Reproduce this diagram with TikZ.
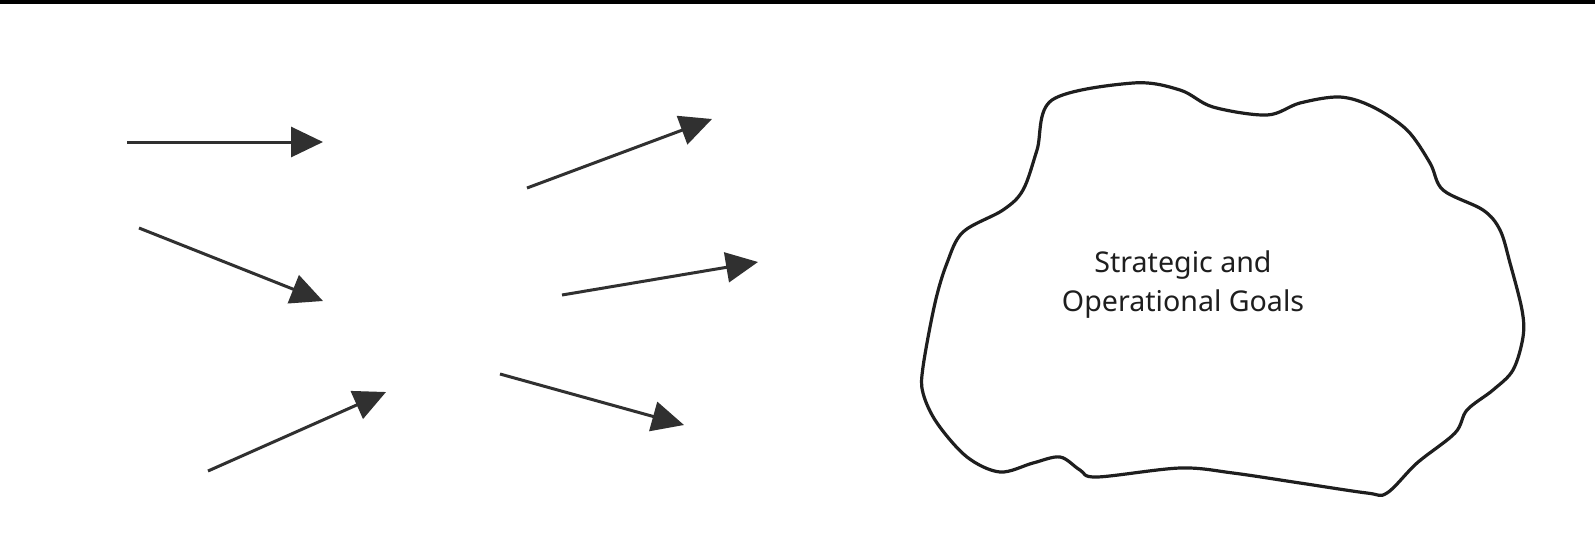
\documentclass[tikz,border=0pt]{standalone}
\usepackage{fontspec}
\setmainfont{Noto Sans}
\usepackage{tikz}
\usetikzlibrary{arrows.meta,positioning,calc}

\definecolor{inkgrey}{HTML}{303030}
\definecolor{inkdark}{HTML}{1E1E1E}

\tikzset{
  flow/.style={draw=inkgrey,line width=1.5pt,-{Triangle[length=16pt,width=15pt]},fill=inkgrey},
  blob/.style={draw=inkdark,line width=1.6pt},
  goals/.style={align=center,font=\fontsize{14.3}{19.5}\selectfont,text=inkdark}
}

\begin{document}
\begin{tikzpicture}[x=0.5pt,y=-0.5pt]
\useasboundingbox (0,0) rectangle (1595,543);
\fill[white] (0,0) rectangle (1595,543);
\fill[black] (0,0) rectangle (1595,4);

% scattered arrows
\coordinate (a1s) at (127,142); \coordinate (a1e) at (323,142);
\coordinate (a2s) at (139,228); \coordinate (a2e) at (323,301);
\coordinate (a3s) at (208,471); \coordinate (a3e) at (386,392);
\coordinate (a4s) at (527,188); \coordinate (a4e) at (712,119);
\coordinate (a5s) at (562,295); \coordinate (a5e) at (758,262);
\coordinate (a6s) at (500,374); \coordinate (a6e) at (684,425);
\foreach \i in {1,...,6}
  \draw[flow] (a\i s) -- (a\i e);

% irregular outline
\draw[blob] plot[smooth cycle,tension=0.55] coordinates {
  (1052,100) (1133,83) (1180,90) (1213,107) (1267,115) (1300,103)
  (1340,97) (1373,107) (1407,130) (1430,163) (1443,190) (1483,210)
  (1500,230) (1510,263) (1522,310) (1523,337) (1513,370) (1493,390)
  (1467,410) (1455,433) (1417,463) (1387,493) (1367,493) (1300,483)
  (1233,473) (1180,468) (1097,477) (1080,470) (1060,457) (1033,463)
  (1000,472) (967,457) (937,423) (923,393) (923,367) (935,303)
  (947,263) (963,232) (1003,210) (1023,190) (1037,150)};

\node[goals] (goal) at (1183,285) {Strategic and\\Operational Goals};
\end{tikzpicture}
\end{document}
